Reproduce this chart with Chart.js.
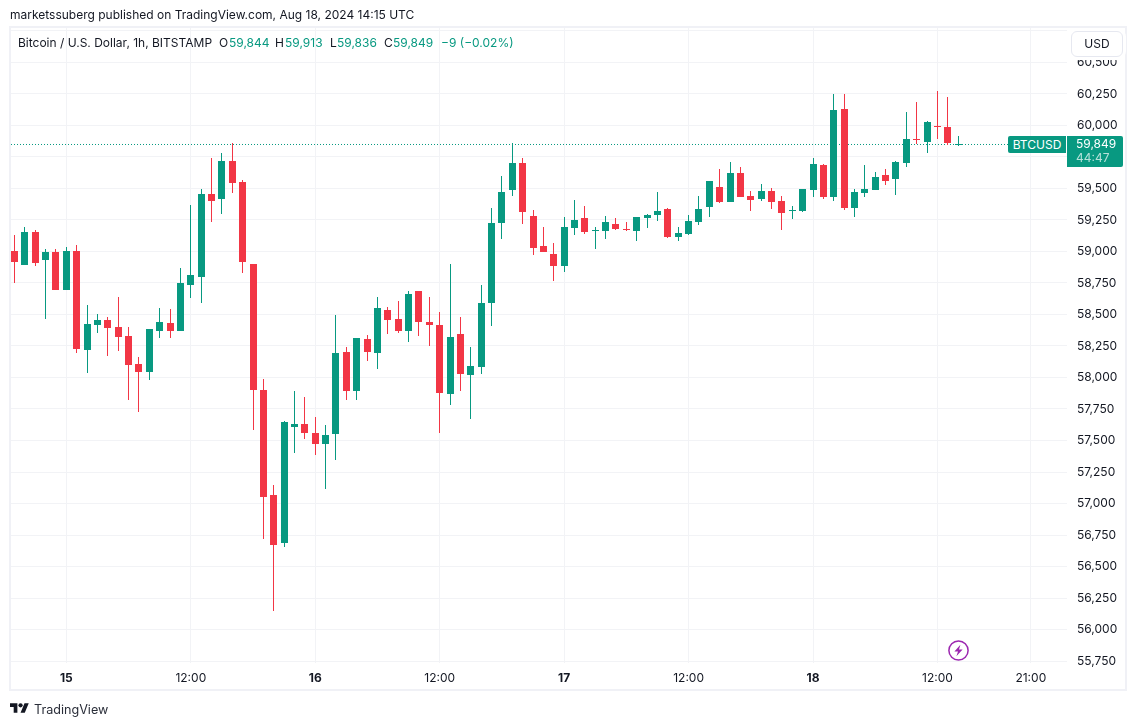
<!DOCTYPE html>
<html>
<head>
<meta charset="utf-8">
<title>BTCUSD 1h</title>
<script src="https://cdn.jsdelivr.net/npm/chart.js@4/dist/chart.umd.js"></script>
<style>
  html, body { margin: 0; background: #fff; }
  body { width: 1137px; height: 726px; overflow: hidden; position: relative; font-family: Inter, "Noto Sans", sans-serif; font-size: 12px; color: #131722; }
  canvas { position: absolute; left: 0; top: 0; }
  .abs { position: absolute; white-space: nowrap; line-height: 16px; }
  .up { color: #089981; }
  #frame { position: absolute; left: 9px; top: 26px; width: 1114px; height: 661px; border: 2px solid #f0f1f6; }
  #usd { position: absolute; left: 1071px; top: 31px; width: 50px; height: 24px; line-height: 24px; background: #fff; border: 1px solid #e6e8f0; border-radius: 6px; box-shadow: 0 0 0 3px #fff; text-align: center; }
  #symbol { position: absolute; left: 1008px; top: 136px; width: 58px; height: 17px; line-height: 17px; background: #089981; color: #fff; border-radius: 2px 0 0 2px; text-align: center; }
  #tag { position: absolute; left: 1067px; top: 136px; width: 56px; height: 31px; background: #089981; color: #fff; border-radius: 0 2px 2px 0; }
  #tag div { position: absolute; left: 9px; line-height: 14px; }
</style>
</head>
<body>
<canvas id="chart" width="1137" height="726"></canvas>

<div id="frame"></div>
<div class="abs" style="left:10px;top:7px">marketssuberg published on TradingView.com, Aug 18, 2024 14:15 UTC</div>

<div class="abs" style="left:18px;top:35px">Bitcoin / U.S. Dollar, 1h, BITSTAMP</div>
<div class="abs" style="left:219px;top:35px">O</div><div class="abs up" style="left:229px;top:35px">59,844</div>
<div class="abs" style="left:275px;top:35px">H</div><div class="abs up" style="left:285px;top:35px">59,913</div>
<div class="abs" style="left:330px;top:35px">L</div><div class="abs up" style="left:337px;top:35px">59,836</div>
<div class="abs" style="left:384px;top:35px">C</div><div class="abs up" style="left:393px;top:35px">59,849</div>
<div class="abs up" style="left:441px;top:35px">−9 (−0.02%)</div>

<div id="usd">USD</div>
<div id="symbol">BTCUSD</div>
<div id="tag">
  <div style="top:1px">59,849</div>
  <div style="top:15px;opacity:.7">44:47</div>
</div>

<svg style="position:absolute;left:948px;top:640px" width="21" height="21" viewBox="0 0 21 21">
  <circle cx="10.5" cy="10.5" r="9.6" fill="#fff" stroke="#9c27b0" stroke-width="1.5"/>
  <path d="M12.4 4.8 6.4 11.4h3.6l-1.6 4.8 6.2-6.8h-3.6z" fill="#9c27b0"/>
</svg>

<svg style="position:absolute;left:10px;top:703px" width="19" height="10" viewBox="0 4 36 18">
  <path d="M14 22H7V11H0V4h14v18zM28 22h-8l7.5-18h8L28 22z" fill="#131722"/>
  <circle cx="20" cy="8" r="4" fill="#131722"/>
</svg>
<div class="abs" style="left:34px;top:702px;font-size:12.6px;color:#2a2e39">TradingView</div>

<script>
// hourly candles, first one is Aug 14 19:00 UTC
const opens = [59002,58891,59153,58931,58994,58693,59002,58217,58415,58455,58399,58328,58106,58042,58367,58431,58367,58732,58796,59455,59415,59717,59550,58899,
  57899,57066,56685,57606,57629,57558,57471,57550,58201,57891,58304,58193,58534,58463,58367,58685,58439,58415,57867,58344,58018,58082,
  58590,59225,59486,59701,59280,59042,58979,58883,59185,59264,59161,59161,59217,59177,59161,59264,59288,59336,59113,
  59137,59233,59352,59510,59391,59621,59439,59415,59479,59399,59320,59320,59486,59685,59431,60129,59344,59463,59486,59605,59574,59701,59891,59867,59994,59986,59844];
const highs = [59129,59193,59169,59018,59018,59034,59050,58574,58502,58479,58637,58399,58161,58383,58550,58542,58867,59367,59494,59740,59780,59857,59566,58899,
  57986,57145,57653,57891,57844,57685,57621,58494,58240,58312,58336,58637,58558,58606,58685,58685,58637,58518,58899,58479,58240,58733,
  59344,59598,59860,59740,59328,59193,59066,59272,59407,59359,59193,59280,59264,59233,59272,59296,59471,59344,59193,
  59288,59439,59558,59653,59709,59669,59479,59534,59502,59439,59360,59494,59740,59693,60248,60248,59494,59685,59629,59653,59717,60106,60185,60034,60272,60225,59913];
const lows = [58748,58891,58883,58463,58693,58693,58193,58034,58352,58169,58209,57820,57725,57979,58312,58312,58367,58629,58590,59233,59296,59463,58828,57582,
  56717,56145,56653,57399,57510,57383,57113,57344,57820,57820,58129,58066,58344,58352,58280,58328,58248,57558,57780,57891,57669,58026,
  58407,59098,59439,59217,58971,58994,58764,58836,59129,59137,59018,59098,59169,59161,59082,59185,59240,59105,59082,
  59129,59209,59272,59383,59391,59431,59320,59399,59336,59169,59256,59312,59431,59415,59399,59328,59272,59431,59486,59526,59447,59669,59852,59780,59891,59844,59836];
const closes = [58915,59153,58907,58994,58693,59002,58225,58423,58455,58391,58320,58098,58042,58383,58439,58367,58748,58812,59455,59399,59717,59542,58915,57899,
  57050,56669,57645,57629,57558,57471,57542,58193,57891,58312,58201,58550,58455,58367,58661,58439,58415,57875,58320,58026,58090,58590,
  59225,59471,59701,59312,59026,58994,58883,59193,59248,59153,59169,59233,59177,59169,59272,59288,59320,59113,59145,
  59240,59336,59558,59391,59621,59431,59407,59479,59391,59304,59328,59494,59693,59431,60121,59344,59471,59494,59590,59558,59709,59891,59883,60026,59986,59858,59849];
const lastPrice = 59849;

// x axis, position is the candle number
const timeTicks = [5, 17, 29, 41, 53, 65, 77, 89, 98];
const timeLabels = ["15", "12:00", "16", "12:00", "17", "12:00", "18", "12:00", "21:00"];
const dayLabels = ["15", "16", "17", "18"];

// price axis
const priceTicks = [55750, 56000, 56250, 56500, 56750, 57000, 57250, 57500, 57750, 58000, 58250, 58500, 58750, 59000, 59250, 59500, 59750, 60000, 60250, 60500, 60750];
const priceLabels = ["55,750", "56,000", "56,250", "56,500", "56,750", "57,000", "57,250", "57,500", "57,750", "58,000", "58,250", "58,500", "58,750", "59,000", "59,250", "59,500", "", "60,000", "60,250", "60,500", ""];

const UP = "#089981";
const DOWN = "#F23645";
const GRID = "#f2f3f6";
const candleColors = closes.map((c, i) => (c >= opens[i] ? UP : DOWN));

// snap the bars to whole pixels so wicks stay 1px sharp
const snapBars = {
  id: "snapBars",
  beforeDatasetsDraw(chart) {
    chart.data.datasets.forEach((ds, n) => {
      if (ds.type !== "bar") return;
      chart.getDatasetMeta(n).data.forEach((bar) => {
        bar.x = Math.floor(bar.x) + 0.5;
        bar.y = Math.round(bar.y);
        bar.base = Math.round(bar.base);
        if (bar.base - bar.y < 1) bar.base = bar.y + 1;
      });
    });
  },
};

new Chart(document.getElementById("chart").getContext("2d"), {
  data: {
    datasets: [
      {
        type: "line",
        data: [{ x: -0.3375, y: lastPrice }, { x: 101.49, y: lastPrice }],
        borderColor: UP,
        borderWidth: 1,
        borderDash: [1, 2],
        pointRadius: 0,
        order: 3,
      },
      {
        type: "bar",
        data: highs.map((h, i) => ({ x: i, y: [lows[i], h] })),
        backgroundColor: candleColors,
        barThickness: 1,
        grouped: false,
        inflateAmount: 0,
        order: 2,
      },
      {
        type: "bar",
        data: opens.map((o, i) => ({ x: i, y: [o, closes[i]] })),
        backgroundColor: candleColors,
        barThickness: 7,
        grouped: false,
        inflateAmount: 0,
        order: 1,
      },
    ],
  },
  options: {
    responsive: false,
    animation: false,
    devicePixelRatio: 1,
    layout: { padding: { left: 11, top: 28, right: 11, bottom: 36 } },
    plugins: { legend: { display: false }, tooltip: { enabled: false } },
    scales: {
      x: {
        type: "linear",
        offset: false,
        min: -0.3375,
        max: 101.49,
        afterBuildTicks: (scale) => {
          scale.ticks = timeTicks.map((v) => ({ value: v }));
        },
        afterFit: (scale) => {
          scale.height = 27;
        },
        grid: { color: GRID, offset: false, drawTicks: false },
        border: { display: false },
        ticks: {
          autoSkip: false,
          maxRotation: 0,
          padding: 8,
          color: "#131722",
          callback: (v, i) => timeLabels[i],
          font: (ctx) => ({
            family: "Inter",
            size: 12,
            weight: ctx.tick && dayLabels.includes(timeLabels[timeTicks.indexOf(ctx.tick.value)]) ? "bold" : "normal",
          }),
        },
      },
      y: {
        position: "right",
        min: 55734.3,
        max: 60773.5,
        afterBuildTicks: (scale) => {
          scale.ticks = priceTicks.map((v) => ({ value: v }));
        },
        afterFit: (scale) => {
          scale.width = 59;
        },
        grid: { color: GRID, drawTicks: false },
        border: { display: false },
        ticks: {
          autoSkip: false,
          padding: 10,
          color: "#131722",
          font: { family: "Inter", size: 12 },
          callback: (v, i) => priceLabels[i],
        },
      },
    },
  },
  plugins: [snapBars],
});
</script>
</body>
</html>
